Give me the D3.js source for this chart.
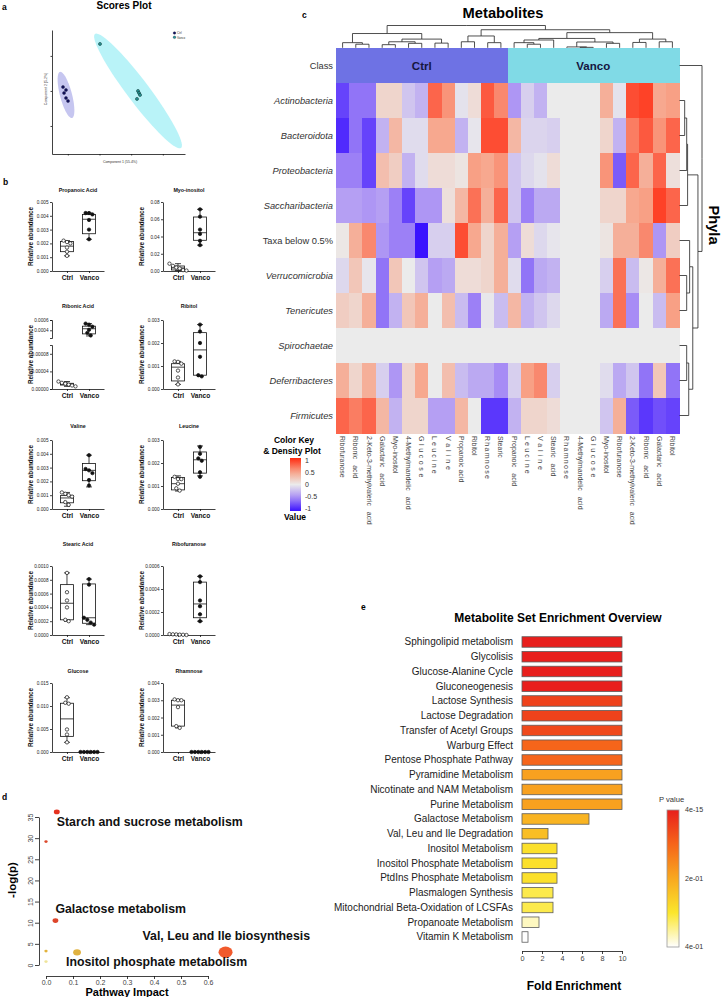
<!DOCTYPE html>
<html>
<head>
<meta charset="utf-8">
<title>Metabolomics figure</title>
<script src="https://cdn.jsdelivr.net/npm/d3@7"></script>
<style>
  body { margin: 0; background: #ffffff; }
  svg { display: block; }
  text { font-family: "Liberation Sans", Arial, Helvetica, sans-serif; }
</style>
</head>
<body>
<svg id="figure" width="722" height="997"></svg>
<script>
const font = '"Liberation Sans", Arial, Helvetica, sans-serif';

// ---------- a: scores plot ----------
const ctrlScores = [[-5.76, 0.57], [-5.29, 0.14], [-5.6, -0.29], [-5.29, -1.0], [-4.97, -1.43]];
const vancoScores = [[0.08, 6.71], [6.08, 0.0], [6.24, -0.29], [6.4, -0.57], [5.92, -1.14]];
// confidence ellipses: centre, semi-major vector, semi-minor vector
const ctrlEllipse = [[-5.29, -0.57], [0.95, -3.29], [0.92, 0.21]];
const vancoEllipse = [[6.08, 0.0], [6.79, -8.14], [-1.4, -0.95]];
const scoreTicksX = [-5, 0, 5, 10];
const scoreTicksY = [-5, 0, 5];

// ---------- b: box plots ----------
const boxMetabolites = ["Propanoic Acid", "Myo-inositol", "Ribonic Acid", "Ribitol", "Valine",
  "Leucine", "Stearic Acid", "Ribofuranose", "Glucose", "Rhamnose"];
const boxGroups = ["Ctrl", "Vanco"];
// [min, Q1, median, Q3, max]
const ctrlBox = [
  [0.0011, 0.0014, 0.0018, 0.00214, 0.0022],
  [0.0005, 0.0012, 0.0035, 0.0058, 0.0085],
  [0.000006, 0.000009, 0.000011, 0.000013, 0.000017],
  [0.0002, 0.00035, 0.00095, 0.0011, 0.0012],
  [0.0002, 0.00045, 0.0008, 0.00097, 0.0012],
  [0.00078, 0.00083, 0.0011, 0.00137, 0.00144],
  [0.0002, 0.00022, 0.00046, 0.00073, 0.0009],
  [0.0, 0.000002, 0.000004, 0.000006, 0.000008],
  [0.0021, 0.0034, 0.0072, 0.0106, 0.0118],
  [0.0014, 0.0015, 0.00272, 0.003, 0.00305],
];
const vancoBox = [
  [0.0023, 0.0027, 0.00375, 0.0041, 0.0042],
  [0.03, 0.0356, 0.0444, 0.0626, 0.0715],
  [0.00029, 0.00033, 0.00043, 0.00048, 0.00053],
  [0.00055, 0.0006, 0.0017, 0.00245, 0.0028],
  [0.0016, 0.00205, 0.0028, 0.0033, 0.0039],
  [0.00144, 0.00156, 0.00214, 0.00248, 0.00274],
  [0.00015, 0.00017, 0.00025, 0.00074, 0.00081],
  [0.00012, 0.00015, 0.00027, 0.00046, 0.00051],
  [0, 0, 0, 0, 0],
  [0, 0, 0, 0, 0],
];
const ctrlValues = [
  [0.0022, 0.0021, 0.002, 0.0017, 0.0014, 0.0011],
  [0.0085, 0.006, 0.004, 0.003, 0.001, 0.0005],
  [0.000017, 0.000014, 0.000012, 0.00001, 0.000008, 0.000006],
  [0.0012, 0.00118, 0.0011, 0.0008, 0.0005, 0.0002],
  [0.0012, 0.0011, 0.001, 0.0009, 0.0005, 0.0003],
  [0.0014, 0.0013, 0.0013, 0.0011, 0.0009, 0.0008],
  [0.0009, 0.00062, 0.0005, 0.0004, 0.00022, 0.0002],
  [0.000008, 0.000006, 0.000005, 0.000003, 0.000002, 0.0],
  [0.0119, 0.0107, 0.0105, 0.0049, 0.0038, 0.0021],
  [0.00305, 0.003, 0.003, 0.0026, 0.0015, 0.0014],
];
const vancoValues = [
  [0.0042, 0.0042, 0.0041, 0.0037, 0.003, 0.0023],
  [0.0715, 0.063, 0.048, 0.043, 0.035, 0.03],
  [0.00053, 0.00051, 0.00047, 0.00041, 0.00035, 0.0003],
  [0.0028, 0.0025, 0.002, 0.0014, 0.0006, 0.00055],
  [0.0039, 0.0029, 0.0028, 0.0026, 0.0021, 0.0017],
  [0.0027, 0.0024, 0.0022, 0.0021, 0.0016, 0.0014],
  [0.00081, 0.00073, 0.00025, 0.00022, 0.00018, 0.00015],
  [0.00051, 0.00046, 0.0003, 0.00025, 0.00018, 0.00012],
  [0, 0, 0, 0, 0, 0],
  [0, 0, 0, 0, 0, 0],
];
const boxTicks = [
  [0, 0.001, 0.002, 0.003, 0.004, 0.005],
  [0, 0.02, 0.04, 0.06, 0.08],
  [0, 0.00004, 0.00008, 0.0004, 0.0006],
  [0, 0.001, 0.002, 0.003],
  [0, 0.001, 0.002, 0.003, 0.004, 0.005],
  [0, 0.001, 0.002, 0.003],
  [0, 0.0002, 0.0004, 0.0006, 0.0008, 0.001],
  [0, 0.0002, 0.0004, 0.0006],
  [0, 0.005, 0.01, 0.015],
  [0, 0.001, 0.002, 0.003, 0.004],
];

// ---------- c: heatmap ----------
const phyla = ["Actinobacteria", "Bacteroidota", "Proteobacteria", "Saccharibacteria", "Taxa below 0.5%",
  "Verrucomicrobia", "Tenericutes", "Spirochaetae", "Deferribacteres", "Firmicutes"];
const heatCols = ["Ribofuranose", "Ribonic   acid", "2-Keto-3-methylvaleric   acid", "Galactaric   acid",
  "Myo-inositol", "4-Methylmandelic   acid", "Glucose", "Leucine", "Valine", "Propanoic acid", "Ribitol",
  "Rhamnose", "Stearic", "Propanoic   acid", "Leucine", "Valine", "Stearic   acid", "Rhamnose",
  "4-Methylmandelic   acid", "Glucose", "Myo-inositol", "Ribofuranose", "2-Keto-3-methylvaleric   acid",
  "Ribonic   acid", "Galactaric   acid", "Ribitol"];
const heatClass = ["Ctrl", "Ctrl", "Ctrl", "Ctrl", "Ctrl", "Ctrl", "Ctrl", "Ctrl", "Ctrl", "Ctrl", "Ctrl", "Ctrl", "Ctrl",
  "Vanco", "Vanco", "Vanco", "Vanco", "Vanco", "Vanco", "Vanco", "Vanco", "Vanco", "Vanco", "Vanco", "Vanco", "Vanco"];
const actinobacteria = [-0.8, -0.6, -0.6, 0.15, 0.15, -0.2, -0.3, 0.75, 0.55, -0.05, 0.1, 0.8, 0.6, -0.45, -0.15, -0.3, 0, 0, 0, 0, 0.4, -0.05, 0.85, 0.9, 0.45, 0.5];
const bacteroidota = [-0.9, -0.6, -0.8, -0.3, 0.35, -0.08, -0.08, 0.45, 0.45, -0.3, -0.03, 0.85, 0.85, 0.35, -0.12, -0.12, -0.15, 0, 0, 0, 0.15, -0.3, 0.65, 0.8, 0.55, 0.75];
const proteobacteria = [-0.55, -0.55, -0.8, 0.3, 0.2, -0.3, -0.08, 0.1, 0.1, 0.05, 0.5, 0.45, 0.55, -0.2, -0.1, -0.05, 0.1, 0, 0, 0, 0.55, -0.7, 0.75, 0.4, 0.75, 0.08];
const saccharibacteria = [-0.4, -0.4, -0.45, -0.4, -0.55, -0.8, -0.45, -0.45, 0.08, 0.35, 0.7, 0.4, 0.75, -0.2, -0.55, -0.35, -0.35, 0, 0, 0, 0.15, 0.15, 0.45, 0.5, 0.9, 0.75];
const taxaBelow = [0.03, 0.4, 0.6, -0.45, -0.55, -0.55, -1, -0.15, -0.15, 0.85, 0.45, 0.15, 0.4, -0.4, 0.1, -0.1, -0.03, 0, 0, 0, 0.05, 0.4, 0.4, 0.6, -0.45, 0.2];
const verrucomicrobia = [-0.1, 0.25, -0.03, -0.6, 0.25, 0, -0.2, -0.4, -0.35, 0.1, 0.1, 0.15, 0.4, -0.08, -0.6, -0.35, -0.3, 0, 0, 0, -0.15, 0.7, -0.25, 0.03, 0.4, 0.7];
const tenericutes = [0.2, 0.15, 0.4, -0.6, -0.3, 0.25, 0.4, 0, 0.3, -0.25, -0.55, -0.02, -0.25, 0.35, -0.3, -0.2, -0.1, 0, 0, 0, -0.35, 0.7, -0.5, 0, -0.25, 0.5];
const spirochaetae = [0, 0, 0, 0, 0, 0, 0, 0, 0, 0, 0, 0, 0, 0, 0, 0, 0, 0, 0, 0, 0, 0, 0, 0, 0, 0];
const deferribacteres = [0.4, 0.15, 0.4, -0.15, -0.45, 0.15, 0.45, 0, 0.3, -0.25, -0.35, -0.35, -0.5, -0.15, 0.5, 0.6, -0.15, 0, 0, 0, -0.08, -0.35, -0.2, -0.6, 0.25, -0.6];
const firmicutes = [0.75, 0.65, 0.75, 0.35, -0.3, 0.15, 0.15, -0.4, -0.4, 0.35, 0, -0.85, -0.85, -0.3, 0.15, 0.15, 0.1, 0, 0, 0, -0.2, 0.4, -0.7, -0.85, -0.75, -0.8];
const heatRows = [actinobacteria, bacteroidota, proteobacteria, saccharibacteria, taxaBelow,
  verrucomicrobia, tenericutes, spirochaetae, deferribacteres, firmicutes];
// dendrograms: [height, left, right]; numbers are leaf indexes
const colTree = [10,
  [6.4, [2.3, 0, [1.6, 1, 2]], [3.9, [2.7, [1.4, 3, 4], [2.0, 5, 6]], [2.1, 7, 8]]],
  [8.1, [5.3, [2.7, 9, 10], [2.3, 11, 12]],
    [6.8, [4.2, [3.5, [2.3, 13, [1.6, 14, 15]], 16], [2.6, [0.4, 17, [0.2, 18, 19]], [2.0, 20, 21]]],
      [3.9, [2.4, 22, 23], [2.7, 24, 25]]]]];
// row leaves: 0 = Class bar, 1..10 = phyla
const rowTree = [10, 0,
  [8.2, [3.6, [3.2, [2.3, 1, 2], 3], 4], [5.9, [4.5, 5, [3.2, 6, 7]], [4.1, [3.2, 8, 9], 10]]]];
const keyTicks = [1, 0.5, 0, -0.5, -1];

// ---------- d: pathway analysis ----------
const pathwayNames = ["Starch and sucrose metabolism", "", "Galactose metabolism", "", "",
  "Inositol phosphate metabolism", "Val, Leu and Ile biosynthesis"];
const pathwayImpact = [0.04, 0.0, 0.035, 0.0, 0.0, 0.115, 0.665];
const pathwayLogP = [36.2, 29.2, 10.5, 3.3, 0.8, 3.0, 3.0];
const pathwayFill = ["#e5321f", "#dc4a2c", "#de452a", "#e2b23c", "#efe49a", "#e0b240", "#f15a2c"];
const impactTicks = [0, 0.1, 0.2, 0.3, 0.4, 0.5, 0.6];
const logPTicks = [0, 5, 10, 15, 20, 25, 30, 35];

// ---------- e: enrichment ----------
const enrichNames = ["Sphingolipid metabolism", "Glycolisis", "Glucose-Alanine Cycle", "Gluconeogenesis",
  "Lactose Synthesis", "Lactose Degradation", "Transfer of Acetyl Groups", "Warburg Effect",
  "Pentose Phosphate Pathway", "Pyramidine Metabolism", "Nicotinate and NAM Metabolism",
  "Purine Metabolism", "Galactose Metabolism", "Val, Leu and Ile Degradation", "Inositol Metabolism",
  "Inositol Phosphate Metabolism", "PtdIns Phosphate Metabolism", "Plasmalogen Synthesis",
  "Mitochondrial Beta-Oxidation of LCSFAs", "Propanoate Metabolism", "Vitamin K Metabolism"];
const enrichFold = [10, 10, 10, 10, 10, 10, 10, 10, 10, 10, 10, 10, 6.7, 2.6, 3.5, 3.5, 3.5, 3.1, 3.1, 1.7, 0.6];
const enrichP = [0.0, 0.0, 0.0, 0.0, 0.05, 0.05, 0.06, 0.1, 0.1, 0.19, 0.19, 0.19, 0.22, 0.235,
  0.29, 0.29, 0.29, 0.315, 0.315, 0.37, 0.4];
const foldTicks = [0, 2, 4, 6, 8, 10];
const pLegendLabels = ["4e-15", "2e-01", "4e-01"];

// ================= drawing =================
const svg = d3.select("#figure");
svg.append("rect").attr("width", 722).attr("height", 997).attr("fill", "#ffffff");
const defs = svg.append("defs");

function styleAxis(g, size) {
  g.attr("font-family", font).attr("font-size", size);
  g.selectAll("path, line").attr("stroke", "#111").attr("stroke-width", 0.8);
  g.selectAll("text").attr("fill", "#222");
}

// panel letters
[["a", 2, 10], ["b", 3, 185], ["c", 302, 18], ["d", 2, 800], ["e", 361, 610]].forEach(([t, x, y]) => {
  svg.append("text").attr("x", x).attr("y", y).attr("font-size", 8.5).attr("font-weight", "bold").text(t);
});

// ----- a -----
const sx = d3.scaleLinear().domain([-7.5, 13.5]).range([52, 185]);
const sy = d3.scaleLinear().domain([-9, 8.7]).range([154, 30]);
const ellipseLine = d3.line().x((d) => sx(d[0])).y((d) => sy(d[1])).curve(d3.curveLinearClosed);
function ellipsePoints(e) {
  return d3.range(72).map((k) => {
    const t = (k / 72) * 2 * Math.PI;
    return [e[0][0] + e[1][0] * Math.cos(t) + e[2][0] * Math.sin(t),
      e[0][1] + e[1][1] * Math.cos(t) + e[2][1] * Math.sin(t)];
  });
}
svg.append("path").attr("d", ellipseLine(ellipsePoints(vancoEllipse))).attr("fill", "#b9f3f8");
svg.append("path").attr("d", ellipseLine(ellipsePoints(ctrlEllipse))).attr("fill", "#c6c6f0");
svg.append("g").attr("transform", "translate(52,0)")
  .call(d3.axisLeft(sy).tickValues(scoreTicksY).tickSize(1.5).tickSizeOuter(0).tickFormat(""))
  .call(styleAxis, 3);
svg.append("g").attr("transform", "translate(0,154)")
  .call(d3.axisBottom(sx).tickValues(scoreTicksX).tickSize(1.5).tickSizeOuter(0).tickFormat(""))
  .call(styleAxis, 3);
svg.selectAll(".ctrl-pt").data(ctrlScores).join("circle")
  .attr("cx", (d) => sx(d[0])).attr("cy", (d) => sy(d[1])).attr("r", 1.5)
  .attr("fill", "#12125e").attr("stroke", "#0a0a30").attr("stroke-width", 0.4);
svg.selectAll(".vanco-pt").data(vancoScores).join("circle")
  .attr("cx", (d) => sx(d[0])).attr("cy", (d) => sy(d[1])).attr("r", 1.5)
  .attr("fill", "#2a9a9a").attr("stroke", "#0a3838").attr("stroke-width", 0.6);
svg.append("text").attr("x", 124).attr("y", 9).attr("text-anchor", "middle")
  .attr("font-size", 10).attr("font-weight", "bold").text("Scores Plot");
svg.append("text").attr("x", 120).attr("y", 163).attr("text-anchor", "middle")
  .attr("font-size", 3.5).attr("fill", "#333").text("Component 1 (55.4%)");
svg.append("text").attr("transform", "translate(47,89) rotate(-90)").attr("text-anchor", "middle")
  .attr("font-size", 3.5).attr("fill", "#333").text("Component 2 (5.2%)");
[["Ctrl", "#12125e"], ["Vanco", "#2a9a9a"]].forEach(([t, c], k) => {
  svg.append("circle").attr("cx", 174.5).attr("cy", 33 + k * 4.3).attr("r", 1.3).attr("fill", c)
    .attr("stroke", "#0a0a30").attr("stroke-width", 0.3);
  svg.append("text").attr("x", 177).attr("y", 34.2 + k * 4.3).attr("font-size", 3).attr("fill", "#333").text(t);
});

// ----- b -----
const boxLeft = [52, 163];
const boxTop = [202, 320, 440, 566, 683];
const boxTitleY = [192, 308, 428, 546, 673];
const boxH = 69;

function spreadPoints(vals, yv, cx) {
  const pts = vals.map((v) => ({ v, y: yv(v) })).sort((a, b) => a.y - b.y);
  const clusters = [];
  pts.forEach((p) => {
    const last = clusters[clusters.length - 1];
    if (last && p.y - last[last.length - 1].y < 3) last.push(p);
    else clusters.push([p]);
  });
  clusters.forEach((c) => c.forEach((p, k) => { p.x = cx + (k - (c.length - 1) / 2) * 3.4; }));
  return pts;
}

boxMetabolites.forEach((name, i) => {
  const col = i % 2;
  const row = Math.floor(i / 2);
  const x0 = boxLeft[col];
  const top = boxTop[row];
  const bottom = top + boxH;
  const g = svg.append("g");
  const x = d3.scalePoint().domain(boxGroups).range([x0, x0 + 52]).padding(0.68);
  let yv;
  if (name === "Ribonic Acid") {
    const low = d3.scaleLinear().domain([0, 0.0001]).range([bottom, bottom - 44]);
    const high = d3.scaleLinear().domain([0.00025, 0.0006]).range([bottom - 51, top]);
    yv = (v) => (v < 0.0002 ? low(v) : high(v));
    g.append("g").attr("transform", `translate(${x0},0)`)
      .call(d3.axisLeft(low).tickValues(boxTicks[i].filter((t) => t < 0.0002))
        .tickFormat(d3.format(".5f")).tickSize(2).tickSizeOuter(2).tickPadding(1.5))
      .call(styleAxis, 4.7);
    g.append("g").attr("transform", `translate(${x0},0)`)
      .call(d3.axisLeft(high).tickValues(boxTicks[i].filter((t) => t > 0.0002))
        .tickFormat(d3.format(".4f")).tickSize(2).tickSizeOuter(2).tickPadding(1.5))
      .call(styleAxis, 4.7);
  } else {
    const y = d3.scaleLinear().domain([0, d3.max(boxTicks[i])]).range([bottom, top]);
    yv = y;
    const dec = -Math.floor(Math.log10(boxTicks[i][1]) + 1e-9);
    g.append("g").attr("transform", `translate(${x0},0)`)
      .call(d3.axisLeft(y).tickValues(boxTicks[i]).tickFormat(d3.format(`.${dec}f`))
        .tickSize(2).tickSizeOuter(0).tickPadding(1.5))
      .call(styleAxis, 4.7);
  }
  g.append("g").attr("transform", `translate(0,${bottom})`)
    .call(d3.axisBottom(x).tickSize(2).tickSizeOuter(0).tickPadding(2.5))
    .call(styleAxis, 6.6)
    .call((a) => a.selectAll("text").attr("font-weight", "bold").attr("fill", "#111"));

  boxGroups.forEach((grp) => {
    const s = (grp === "Ctrl" ? ctrlBox : vancoBox)[i];
    const vals = (grp === "Ctrl" ? ctrlValues : vancoValues)[i];
    const cx = x(grp);
    const bg = g.append("g").attr("stroke", "#111").attr("stroke-width", 0.8);
    bg.append("line").attr("x1", cx).attr("x2", cx).attr("y1", yv(s[0])).attr("y2", yv(s[4]));
    [s[0], s[4]].forEach((v) => {
      bg.append("line").attr("x1", cx - 3).attr("x2", cx + 3).attr("y1", yv(v)).attr("y2", yv(v));
    });
    bg.append("rect").attr("x", cx - 6.5).attr("width", 13)
      .attr("y", yv(s[3])).attr("height", Math.max(0, yv(s[1]) - yv(s[3])))
      .attr("fill", "#ffffff");
    bg.append("line").attr("x1", cx - 6.5).attr("x2", cx + 6.5).attr("y1", yv(s[2])).attr("y2", yv(s[2]));
    const pts = spreadPoints(vals, yv, cx);
    bg.selectAll("circle").data(pts).join("circle")
      .attr("cx", (d) => d.x).attr("cy", (d) => d.y).attr("r", 1.7)
      .attr("fill", grp === "Ctrl" ? "#ffffff" : "#111111").attr("stroke-width", 0.7);
  });

  g.append("text").attr("x", x0 + 26).attr("y", boxTitleY[row]).attr("text-anchor", "middle")
    .attr("font-size", 5.3).attr("font-weight", "bold").attr("fill", "#111").text(name);
  g.append("text").attr("transform", `translate(${x0 - 19},${(top + bottom) / 2}) rotate(-90)`)
    .attr("text-anchor", "middle").attr("font-size", 6.3).attr("font-weight", "bold")
    .attr("fill", "#111").text("Relative abundance");
});

// ----- c -----
const heat = d3.scaleLinear().domain([-1, -0.5, 0, 0.5, 1])
  .range(["#3a12ff", "#a78cf5", "#ebebeb", "#f8a085", "#ff2a10"]);
const classColor = d3.scaleOrdinal().domain(["Ctrl", "Vanco"]).range(["#6e72e4", "#80dae6"]);
const hx = d3.scaleBand().domain(d3.range(heatCols.length)).range([336, 679]);
const rowKeys = ["Class", ...phyla];
const hy = d3.scaleBand().domain(rowKeys).range([48, 433]);

const heatG = svg.append("g").attr("shape-rendering", "crispEdges");
heatG.selectAll(".cls").data(heatClass).join("rect")
  .attr("x", (d, j) => hx(j)).attr("y", hy("Class"))
  .attr("width", hx.bandwidth() + 0.6).attr("height", hy.bandwidth() + 0.6)
  .attr("fill", (d) => classColor(d));
heatRows.forEach((vals, r) => {
  heatG.append("g").selectAll("rect").data(vals).join("rect")
    .attr("x", (d, j) => hx(j)).attr("y", hy(phyla[r]))
    .attr("width", hx.bandwidth() + 0.6).attr("height", hy.bandwidth() + 0.6)
    .attr("fill", (d) => heat(d));
});
["Ctrl", "Vanco"].forEach((c) => {
  const idx = heatClass.map((d, j) => (d === c ? j : -1)).filter((j) => j >= 0);
  const cx = (hx(d3.min(idx)) + hx(d3.max(idx)) + hx.bandwidth()) / 2;
  svg.append("text").attr("x", cx).attr("y", hy("Class") + hy.bandwidth() / 2).attr("dy", "0.35em")
    .attr("text-anchor", "middle").attr("font-size", 11.5).attr("font-weight", "bold")
    .attr("fill", "#161640").text(c);
});
svg.append("g").selectAll("text").data(rowKeys).join("text")
  .attr("x", 333).attr("y", (d) => hy(d) + hy.bandwidth() / 2).attr("dy", "0.35em")
  .attr("text-anchor", "end").attr("font-size", 9.3).attr("fill", "#333")
  .attr("font-style", (d) => (d === "Class" || d === "Taxa below 0.5%" ? "normal" : "italic"))
  .text((d) => d);
const spacedLabels = { Leucine: 2.2, Valine: 3, Glucose: 2.6, Rhamnose: 1.3 };
svg.append("g").selectAll("text").data(heatCols).join("text")
  .attr("transform", (d, j) => `translate(${hx(j) + hx.bandwidth() / 2},436) rotate(90)`)
  .attr("dy", "0.35em").attr("font-size", 7).attr("fill", "#444")
  .attr("letter-spacing", (d) => spacedLabels[d] || 0)
  .style("white-space", "pre")
  .text((d) => d);

function placeTree(node, leafPos) {
  if (typeof node === "number") return { pos: leafPos(node), h: 0, kids: [] };
  const kids = node.slice(1).map((k) => placeTree(k, leafPos));
  return { pos: d3.mean(kids, (k) => k.pos), h: node[0], kids };
}
function treeLinks(n, out = []) {
  n.kids.forEach((k) => { out.push([n, k]); treeLinks(k, out); });
  return out;
}
const colH = d3.scaleLinear().domain([0, 10]).range([47.8, 25.5]);
const colRoot = placeTree(colTree, (j) => hx(j) + hx.bandwidth() / 2);
svg.append("g").selectAll("path").data(treeLinks(colRoot)).join("path")
  .attr("d", ([p, c]) => `M${c.pos},${colH(c.h)}V${colH(p.h)}H${p.pos}`)
  .attr("fill", "none").attr("stroke", "#222").attr("stroke-width", 0.8);
const rowH = d3.scaleLinear().domain([0, 10]).range([679.5, 702]);
const rowRoot = placeTree(rowTree, (k) => hy(rowKeys[k]) + hy.bandwidth() / 2);
svg.append("g").selectAll("path").data(treeLinks(rowRoot)).join("path")
  .attr("d", ([p, c]) => `M${rowH(c.h)},${c.pos}H${rowH(p.h)}V${p.pos}`)
  .attr("fill", "none").attr("stroke", "#222").attr("stroke-width", 0.8);

svg.append("text").attr("x", 503).attr("y", 18).attr("text-anchor", "middle")
  .attr("font-size", 14.7).attr("font-weight", "bold").text("Metabolites");
svg.append("text").attr("transform", "translate(709,225) rotate(90)").attr("text-anchor", "middle")
  .attr("font-size", 14.7).attr("font-weight", "bold").text("Phyla");

// colour key
const keyY = d3.scaleLinear().domain([-1, 1]).range([509, 461]);
const keyGrad = defs.append("linearGradient").attr("id", "keyGrad")
  .attr("x1", 0).attr("x2", 0).attr("y1", 1).attr("y2", 0);
d3.range(0, 1.0001, 0.1).forEach((t) => {
  keyGrad.append("stop").attr("offset", t).attr("stop-color", heat(-1 + 2 * t));
});
svg.append("rect").attr("x", 290).attr("y", keyY(1) - 3).attr("width", 11)
  .attr("height", keyY(-1) - keyY(1) + 5).attr("fill", "url(#keyGrad)");
svg.append("g").selectAll("text").data(keyTicks).join("text")
  .attr("x", 305).attr("y", (d) => keyY(d)).attr("dy", "0.35em")
  .attr("font-size", 7).attr("fill", "#333").text((d) => d);
svg.append("text").attr("x", 294).attr("y", 443).attr("text-anchor", "middle")
  .attr("font-size", 8.5).attr("font-weight", "bold").text("Color Key");
svg.append("text").attr("x", 292).attr("y", 453.5).attr("text-anchor", "middle")
  .attr("font-size", 8.5).attr("font-weight", "bold").text("& Density Plot");
svg.append("text").attr("x", 295).attr("y", 520).attr("text-anchor", "middle")
  .attr("font-size", 8.5).attr("font-weight", "bold").text("Value");

// ----- d -----
const ix = d3.scaleLinear().domain([0, 0.6]).range([46, 208]);
const ly = d3.scaleLinear().domain([0, 35]).range([965, 817]);
const rSize = d3.scaleSqrt().domain([0, 0.7]).range([1.5, 6.5]);
svg.append("g").attr("transform", "translate(39,0)")
  .call(d3.axisLeft(ly).tickValues(logPTicks).tickSize(4).tickSizeOuter(0))
  .call(styleAxis, 7)
  .call((a) => a.selectAll("text").attr("x", 0).attr("dy", 0).attr("text-anchor", "middle")
    .attr("fill", "#444").attr("transform", "translate(-6,0) rotate(-90)"));
svg.append("g").attr("transform", "translate(0,976)")
  .call(d3.axisBottom(ix).tickValues(impactTicks).tickFormat(d3.format(".1f")).tickSize(3).tickSizeOuter(0).tickPadding(0.8))
  .call(styleAxis, 7)
  .call((a) => a.selectAll("text").attr("fill", "#444"));
svg.append("g").selectAll("ellipse").data(pathwayImpact).join("ellipse")
  .attr("cx", (d) => ix(d)).attr("cy", (d, k) => ly(pathwayLogP[k]))
  .attr("rx", (d) => rSize(d) * 1.1).attr("ry", (d) => rSize(d) * 0.9)
  .attr("fill", (d, k) => pathwayFill[k]);
const labelShift = [[0, 10], null, [0, -12], null, null, [-11, 9], [-83, -17]];
pathwayNames.forEach((t, k) => {
  if (!t) return;
  svg.append("text").attr("x", ix(pathwayImpact[k]) + labelShift[k][0])
    .attr("y", ly(pathwayLogP[k]) + labelShift[k][1]).attr("dy", "0.35em")
    .attr("font-size", 12.3).attr("font-weight", "bold").attr("fill", "#111").text(t);
});
svg.append("text").attr("transform", "translate(16,880) rotate(-90)").attr("text-anchor", "middle")
  .attr("font-size", 11.5).attr("font-weight", "bold").text("-log(p)");
svg.append("text").attr("x", 127).attr("y", 996).attr("text-anchor", "middle")
  .attr("font-size", 11).attr("font-weight", "bold").text("Pathway Impact");

// ----- e -----
const fx = d3.scaleLinear().domain([0, 10]).range([522, 622]);
const ey = d3.scaleBand().domain(enrichNames).range([634.6, 634.6 + 14.75 * enrichNames.length]);
const pColor = d3.scaleLinear().domain([0, 0.1, 0.2, 0.3, 0.4])
  .range(["#e81f1c", "#f6651a", "#f8a81f", "#fbe62c", "#ffffff"]);
svg.append("text").attr("x", 558).attr("y", 622).attr("text-anchor", "middle")
  .attr("font-size", 12).attr("font-weight", "bold").text("Metabolite Set Enrichment Overview");
svg.append("g").selectAll("rect").data(enrichFold).join("rect")
  .attr("x", fx(0)).attr("y", (d, k) => ey(enrichNames[k]) + (ey.bandwidth() - 10.5) / 2)
  .attr("width", (d) => fx(d) - fx(0)).attr("height", 10.5)
  .attr("fill", (d, k) => pColor(enrichP[k])).attr("stroke", "#5c5c5c").attr("stroke-width", 0.8);
svg.append("g").selectAll("text").data(enrichNames).join("text")
  .attr("x", 513).attr("y", (d) => ey(d) + ey.bandwidth() / 2).attr("dy", "0.35em")
  .attr("text-anchor", "end").attr("font-size", 10).attr("fill", "#222").text((d) => d);
svg.append("g").attr("transform", "translate(0,951)")
  .call(d3.axisBottom(fx).tickValues(foldTicks).tickSize(3).tickSizeOuter(0).tickPadding(2))
  .call(styleAxis, 7.3)
  .call((a) => a.selectAll("text").attr("fill", "#444"));
svg.append("text").attr("x", 574).attr("y", 990).attr("text-anchor", "middle")
  .attr("font-size", 12).attr("font-weight", "bold").text("Fold Enrichment");

// p-value legend
const pLegY = d3.scaleLinear().domain([0, 0.4]).range([810, 947]);
const pGrad = defs.append("linearGradient").attr("id", "pGrad")
  .attr("x1", 0).attr("x2", 0).attr("y1", 0).attr("y2", 1);
d3.range(0, 1.0001, 0.05).forEach((t) => {
  pGrad.append("stop").attr("offset", t).attr("stop-color", pColor(0.4 * t));
});
svg.append("rect").attr("x", 667).attr("y", pLegY(0)).attr("width", 12)
  .attr("height", pLegY(0.4) - pLegY(0)).attr("fill", "url(#pGrad)")
  .attr("stroke", "#9a9a9a").attr("stroke-width", 0.8);
svg.append("text").attr("x", 659).attr("y", 802).attr("font-size", 7.6).attr("fill", "#333").text("P value");
svg.append("g").selectAll("text").data(pLegendLabels).join("text")
  .attr("x", 685).attr("y", (d, k) => pLegY([0, 0.2, 0.4][k])).attr("dy", "0.35em")
  .attr("font-size", 7.1).attr("fill", "#333").text((d) => d);
</script>
</body>
</html>
